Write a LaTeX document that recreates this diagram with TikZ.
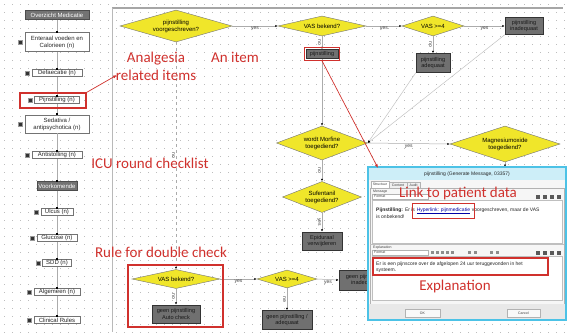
\documentclass[tikz,border=0pt]{standalone}
\usepackage{fontspec}
\setmainfont{Liberation Sans}
\newfontfamily\annfont{Carlito}
\usetikzlibrary{shapes.geometric,arrows.meta,fit,positioning}
\definecolor{ydia}{HTML}{F0E62A}
\definecolor{dbox}{HTML}{707070}
\definecolor{annred}{HTML}{D0312D}
\definecolor{winblue}{HTML}{4CC2E6}
\definecolor{gridc}{HTML}{BDBDBD}
\definecolor{linec}{HTML}{ABABAB}
\begin{document}
\begin{tikzpicture}[x=1pt,y=-1pt,
  dia/.style={diamond, draw=black!55, line width=0.4, fill=ydia, inner sep=0, align=center, font=\fontsize{6}{7}\selectfont},
  gb/.style={rectangle, draw=black!80, line width=0.5, fill=dbox, inner sep=0.5, align=center, font=\fontsize{5.6}{6.6}\selectfont, text=black!90},
  wb/.style={rectangle, draw=black!55, line width=0.5, fill=white, inner sep=0.5, align=center, font=\fontsize{6}{7}\selectfont, text=black!85},
  hdr/.style={rectangle, draw=black!70, fill=black!55, inner sep=0.5, font=\fontsize{6}{7}\selectfont, text=white},
  sq/.style={rectangle, fill=black!80, draw=black!40, minimum size=4, inner sep=0},
  conn/.style={draw=linec, line width=0.5, -{Latex[length=2.5pt,width=2.2pt,color=black]}},
  lconn/.style={draw=linec, line width=0.5, -{Square[length=1.6pt,width=1.6pt,color=black]}},
  lab/.style={font=\fontsize{5}{6}\selectfont, text=black!75, inner sep=1},
  nolab/.style={lab, rotate=-90, anchor=north, pos=0.5},
  ann/.style={font=\annfont\fontsize{15}{18}\selectfont, text=annred, align=center, inner sep=0},
  redbox/.style={draw=annred, line width=1.1, inner sep=0},
  redarrow/.style={draw=annred, line width=0.7, -{Latex[length=4pt,width=3pt]}},
  dtxt/.style={font=\fontsize{5}{6}\selectfont, inner sep=0, text=black!85},
  tiny/.style={font=\fontsize{3.5}{4}\selectfont, inner sep=0, text=black!75}
]
\useasboundingbox (0,0) rectangle (572,332);
\fill[white] (0,0) rectangle (572,332);
% dotted grid
\foreach \gx in {4,12,...,572}{\foreach \gy in {4,12,...,332}{\fill[gridc] (\gx,\gy) rectangle ++(0.9,0.9);}}
% frame of the main panel
\draw[gray!70, line width=1.6] (112,8) -- (563,8);
\draw[gray!55, line width=0.8] (112,8) -- (112,332);

% ---------- left panel ----------
\node[hdr, minimum width=64, minimum height=9] (l1) at (57,15) {Overzicht Medicatie};
\node[wb, minimum width=64, minimum height=19] (l2) at (57,42) {Enteraal voeden en\\Calorieen (n)};
\node[wb, minimum width=50, minimum height=7] (l3) at (57,73) {Defaecatie (n)};
\node[wb, minimum width=45, minimum height=7] (l4) at (57,100) {Pijnstilling (n)};
\node[wb, minimum width=64, minimum height=18] (l5) at (57,124) {Sedativa /\\antipsychotica (n)};
\node[wb, minimum width=50, minimum height=7] (l6) at (57,155) {Antistolling (n)};
\node[hdr, minimum width=40, minimum height=9] (l7) at (57,186) {Voorkomende};
\node[wb, minimum width=32, minimum height=7] (l8) at (57,212) {Ulcus (n)};
\node[wb, minimum width=40, minimum height=7] (l9) at (57,238) {Glucose (n)};
\node[wb, minimum width=29, minimum height=7] (l10) at (57,263) {SDD (n)};
\node[wb, minimum width=46, minimum height=7] (l11) at (57,292) {Algemeen (n)};
\node[wb, minimum width=46, minimum height=7] (l12) at (57,320) {Clinical Rules};
\foreach \a/\b in {l1/l2,l2/l3,l3/l4,l4/l5,l5/l6,l6/l7,l7/l8,l8/l9,l9/l10,l10/l11,l11/l12}
  \draw[lconn] (\a) -- (\b);
\foreach \n in {l2,l3,l4,l5,l6,l8,l9,l10,l11,l12}
  \node[sq, left=2 of \n] (s\n) {};

% ---------- main flow ----------
\node[dia, aspect=3.5, minimum width=112, minimum height=32] (d1) at (176,26) {pijnstilling\\voorgeschreven?};
\node[dia, aspect=4.4, minimum width=88, minimum height=20] (d2) at (322,26) {VAS bekend?};
\node[dia, aspect=3.1, minimum width=62, minimum height=20] (d3) at (433,26) {VAS >=4};
\node[gb, minimum width=38, minimum height=17] (b1) at (524,26) {pijnstilling\\inadequaat};
\node[gb, minimum width=32, minimum height=9] (b2) at (322,54) {pijnstilling};
\node[gb, minimum width=34, minimum height=19] (b3) at (433,63) {pijnstilling\\adequaat};
\node[dia, aspect=2.7, minimum width=91, minimum height=34] (d4) at (322,143) {wordt Morfine\\toegediend?};
\node[dia, aspect=3, minimum width=110, minimum height=36] (d5) at (505,144) {Magnesiumoxide\\toegediend?};
\node[dia, aspect=2.6, minimum width=79, minimum height=31] (d6) at (322,197) {Sufentanil\\toegediend?};
\node[gb, minimum width=40, minimum height=18] (b4) at (322,241) {Epiduraal\\verwijderen};
\node[dia, aspect=4.6, minimum width=88, minimum height=19] (d7) at (176,279) {VAS bekend?};
\node[gb, minimum width=48, minimum height=18] (b5) at (176,314) {geen pijnstilling\\Auto check};
\node[dia, aspect=3.3, minimum width=60, minimum height=18] (d8) at (287,279) {VAS >=4};
\node[gb, minimum width=50, minimum height=19] (b6) at (287,320) {geen pijnstilling /\\adequaat};
\node[gb, minimum width=52, minimum height=20] (b7) at (365,280) {geen pijnstilling\\inadequaat};
\coordinate (dlgtop) at (505,167);

\draw[conn] (d1.east) -- node[lab, below]{yes} (d2.west);
\draw[conn] (d2.east) -- node[lab, below]{yes} (d3.west);
\draw[conn] (d3.east) -- node[lab, below]{yes} (b1.west);
\draw[conn] (d2.south) -- node[nolab]{no} (b2.north);
\draw[conn] (d3.south) -- node[nolab]{no} (b3.north);
\draw[conn] (b2.south) -- (d4.north);
\draw[conn, draw=linec!70] (b3.south west) -- (d4.east);
\draw[conn, draw=linec!70] (b1.south west) -- (d4.east);
\draw[conn] (d4.east) -- node[lab, below]{yes} (d5.west);
\draw[conn] (d4.south) -- node[nolab]{no} (d6.north);
\draw[conn] (d6.south) -- node[nolab]{yes} (b4.north);
\draw[conn] (d5.south) -- (dlgtop);
\draw[conn, dashed] (d1.south) -- node[nolab]{no} (d7.north);
\draw[conn] (d7.south) -- node[nolab]{no} (b5.north);
\draw[conn] (d7.east) -- node[lab, below]{yes} (d8.west);
\draw[conn] (d8.south) -- node[nolab]{no} (b6.north);
\draw[conn] (d8.east) -- node[lab, below]{yes} (b7.west);

% ---------- dialog window ----------
\fill[winblue] (367,166) rectangle (567,321);
\fill[winblue!28] (369,168) rectangle (565,180);
\node[dtxt] (title) at (467,174) {pijnstilling (Generate Message, 03357)};
\fill[gray!7] (369,180) rectangle (565,319);
\draw[gray!60, line width=0.3] (370,188) rectangle (564,304);
\draw[gray!60, line width=0.3, fill=white] (371,181) rectangle (389,188);
\node[tiny] (tab1) at (380,184.5) {Structuur};
\draw[gray!60, line width=0.3, fill=gray!12] (389,182) rectangle (407,188);
\node[tiny] (tab2) at (398,185) {Content};
\draw[gray!60, line width=0.3, fill=gray!12] (407,182) rectangle (420,188);
\node[tiny] (tab3) at (413.5,185) {Audit};
\node[tiny, anchor=west] (msgl) at (373,191.5) {Message};
\draw[gray!60, line width=0.3, fill=white] (372,194) rectangle (428,199);
\node[tiny, anchor=west] (fmt1) at (374,196.5) {Format};
\foreach \ix in {536,543,550,557} \fill[black!65] (\ix,194.5) rectangle ++(4,4);
\draw[gray!50, line width=0.3, fill=white] (372,200) rectangle (562,243);
\node[dtxt, anchor=base west] (m1) at (376,211) {\textbf{Pijnstilling:} Er is};
\node[dtxt, anchor=base west, text=blue!65!black, xshift=1.4] (m2) at (m1.base east) {\underline{Hyperlink: pijnmedicatie}};
\node[dtxt, anchor=base west, xshift=1.4] (m3) at (m2.base east) {voorgeschreven, maar de VAS};
\node[dtxt, anchor=base west] (m4) at (376,218) {is onbekend!};
\node[redbox, fit=(m2), inner xsep=4, inner ysep=4] (r4) {};
% explanation part
\draw[gray!50, line width=0.3] (370,244.5) -- (564,244.5);
\node[tiny, anchor=west] (expl) at (373,247.5) {Explanation};
\draw[gray!60, line width=0.3, fill=white] (372,250) rectangle (428,255);
\node[tiny, anchor=west] (fmt2) at (374,252.5) {Format};
\foreach \ix in {431,436,441,446,451,468,474,490,496} \fill[black!45] (\ix,251) rectangle ++(3,3);
\foreach \ix in {536,543,550,557} \fill[black!65] (\ix,250.5) rectangle ++(4,4);
\draw[gray!50, line width=0.3, fill=white] (372,256) rectangle (562,300);
\node[dtxt, anchor=base west] (e1) at (376,265) {Er is een pijnscore over de afgelopen 24 uur teruggevonden in het};
\node[dtxt, anchor=base west] (e2) at (376,271.5) {systeem.};
\node[redbox, minimum width=175, minimum height=17] (r5) at (460.5,266.5) {};
\fill[gray!18] (369,304) rectangle (565,319);
\draw[gray!60, line width=0.3, fill=gray!5] (405,309) rectangle (440,317);
\node[tiny] (ok) at (422.5,313) {OK};
\draw[gray!60, line width=0.3, fill=gray!5] (507,309) rectangle (540,317);
\node[tiny] (cancel) at (523.5,313) {Cancel};

% ---------- red highlights and annotations ----------
\node[redbox, fit=(b2), inner sep=1.5] (r1) {};
\node[redbox, minimum width=95, minimum height=62] (r2) at (175.5,296) {};
\node[redbox, minimum width=66, minimum height=15] (r3) at (53,100.5) {};
\node[ann] (a1) at (156,66) {Analgesia\\related items};
\node[ann] (a2) at (235,57) {An item};
\node[ann] (a3) at (150,163) {ICU round checklist};
\node[ann] (a4) at (161,252) {Rule for double check};
\node[ann] (a5) at (458,193) {Link to patient data};
\node[ann] (a6) at (455,286) {Explanation};
\coordinate (a1t) at (117,75);
\coordinate (dlgin) at (378,168);
\draw[redarrow] (r3.north east) -- (a1t);
\draw[redarrow] (r1.south) -- (dlgin);
\end{tikzpicture}
\end{document}
